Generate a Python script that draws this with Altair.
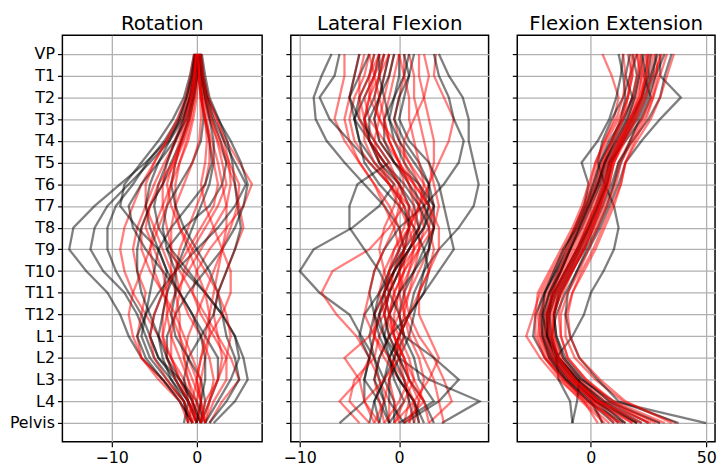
import altair as alt
import pandas as pd

levels = ["VP", "T1", "T2", "T3", "T4", "T5", "T6", "T7", "T8", "T9",
          "T10", "T11", "T12", "L1", "L2", "L3", "L4", "Pelvis"]

# ---------------- Rotation ----------------
rot_black = [
    [0.0, -0.3, -0.8, -1.8, -3.5, -6.0, -9.0, -12.0, -14.5, -15.0, -13.0, -10.5, -9.0, -8.0, -6.5, -4.0, -2.0, -0.5],
    [0.2, -0.2, -0.7, -1.6, -3.2, -5.5, -8.0, -10.5, -12.0, -12.5, -11.0, -8.5, -7.0, -6.0, -5.0, -3.0, -1.0, 0.5],
    [-0.2, -0.5, -1.2, -2.2, -3.8, -5.8, -7.5, -9.5, -10.5, -10.5, -9.5, -8.0, -6.5, -5.5, -4.5, -2.5, -1.0, 0.0],
    [0.3, 0.1, -0.4, -1.2, -2.6, -4.5, -6.5, -8.0, -7.5, -6.0, -4.0, -2.0, -0.5, 1.0, 2.5, 2.5, 1.5, 0.5],
    [0.5, 0.8, 1.3, 2.5, 4.0, 5.2, 6.0, 5.5, 4.5, 3.0, 1.0, -1.0, -2.5, -3.5, -3.5, -2.5, -1.0, 0.0],
    [0.4, 0.6, 1.0, 1.8, 2.8, 3.5, 3.0, 1.5, -1.5, -3.5, -1.5, 1.0, 3.0, 4.5, 5.5, 6.0, 4.5, 2.0],
    [0.0, 0.2, 0.5, 1.0, 1.5, 1.8, 1.0, -1.0, -3.0, -4.5, -5.0, -5.5, -6.0, -6.5, -5.5, -3.5, -1.5, -0.5],
    [-0.1, -0.3, -0.8, -1.5, -2.5, -3.5, -4.5, -5.0, -4.5, -3.0, -1.0, 1.0, 3.0, 4.5, 5.0, 4.0, 2.5, 1.0],
    [0.6, 1.0, 1.5, 2.6, 3.6, 4.2, 4.5, 4.8, 5.2, 4.5, 3.5, 2.5, 3.0, 3.5, 4.5, 5.0, 3.5, 1.5],
    [-0.3, -0.8, -1.5, -2.8, -4.5, -6.5, -8.5, -9.0, -7.0, -4.5, -3.5, -4.0, -5.0, -5.5, -4.5, -2.0, 0.0, 1.0],
    [0.2, 0.4, 0.6, 0.8, 0.5, -0.5, -2.0, -3.5, -4.0, -3.5, -2.5, -2.5, -3.0, -2.5, -1.0, 0.5, 1.0, 0.5],
    [0.0, -0.2, -0.5, -1.0, -1.8, -2.5, -3.0, -2.5, -1.5, 0.0, 1.5, 2.5, 2.0, 0.5, -1.0, -1.5, -1.0, -1.5],
    [0.4, 0.7, 1.2, 2.0, 3.2, 4.5, 5.8, 4.5, 2.5, 0.0, -2.5, -4.5, -6.0, -7.0, -6.0, -4.0, -2.0, -0.5],
    [0.1, 0.0, -0.3, -0.9, -1.8, -3.0, -4.0, -5.5, -6.5, -7.0, -7.0, -6.5, -5.5, -4.5, -3.5, -2.0, -0.5, 0.5],
    [0.3, 0.6, 1.0, 1.5, 2.0, 2.0, 1.5, 0.5, -0.5, -1.5, -2.5, -3.5, -4.0, -4.5, -4.0, -3.0, -1.5, -1.0],
    [-0.2, -0.6, -1.2, -2.0, -3.2, -4.5, -5.5, -6.0, -5.5, -4.5, -3.5, -2.0, -0.5, 0.5, 1.0, 1.0, 0.5, 0.0],
]
rot_red = [
    [0.3, 0.6, 1.2, 2.2, 3.5, 5.0, 6.5, 5.5, 3.5, 1.5, 0.0, -0.5, 0.5, 2.0, 3.5, 3.5, 2.0, 1.0],
    [-0.2, -0.5, -1.0, -2.0, -3.5, -5.0, -6.5, -7.5, -8.5, -9.0, -8.5, -7.5, -6.0, -4.5, -3.0, -1.5, -0.5, 0.0],
    [0.0, -0.2, -0.6, -1.3, -2.4, -3.8, -5.0, -6.0, -7.0, -7.5, -7.0, -6.0, -6.5, -7.0, -6.5, -4.0, -1.5, -1.0],
    [0.2, 0.4, 0.8, 1.5, 2.5, 3.5, 4.5, 5.0, 5.5, 4.5, 3.5, 2.5, 2.0, 2.5, 4.0, 5.0, 3.0, 1.5],
    [0.1, 0.1, 0.0, -0.4, -1.0, -2.0, -3.0, -4.0, -5.0, -5.5, -5.0, -4.0, -3.0, -2.0, -1.0, 0.0, 0.5, 0.5],
    [0.3, 0.5, 0.8, 1.2, 1.5, 1.5, 1.0, 0.0, -1.0, -2.0, -2.5, -2.0, -1.0, 0.5, 1.5, 2.0, 1.5, 1.0],
    [-0.1, -0.4, -0.9, -1.6, -2.6, -3.5, -4.0, -4.0, -3.5, -3.0, -3.0, -3.5, -4.0, -4.0, -3.0, -2.0, -0.5, 0.5],
    [0.0, 0.0, -0.2, -0.6, -1.2, -2.0, -2.5, -2.5, -2.0, -1.0, 0.0, 1.0, 1.5, 1.5, 1.0, 0.5, 0.0, -0.5],
    [0.5, 0.8, 1.4, 2.4, 3.2, 3.8, 4.0, 3.5, 2.0, 0.5, -1.0, -2.5, -3.5, -4.0, -3.5, -2.5, -1.0, 0.0],
    [-0.3, -0.7, -1.3, -2.3, -3.6, -5.0, -6.0, -6.0, -5.0, -4.0, -3.0, -2.5, -2.0, -2.0, -1.5, -0.5, 0.5, 1.0],
    [0.2, 0.3, 0.4, 0.5, 0.3, -0.5, -1.5, -2.5, -3.0, -3.0, -2.0, -0.5, 1.0, 2.5, 3.0, 2.5, 1.5, 0.5],
    [0.0, 0.2, 0.5, 1.0, 1.8, 2.5, 3.0, 3.5, 3.5, 3.0, 2.0, 1.0, 0.0, -1.0, -1.5, -1.0, -0.5, 0.0],
    [-0.1, -0.2, -0.4, -0.8, -1.5, -2.5, -4.0, -5.5, -6.5, -6.5, -5.5, -4.0, -2.5, -1.5, -0.5, 0.5, 0.5, 0.0],
    [0.4, 0.6, 1.0, 1.6, 2.4, 3.0, 3.5, 2.5, 1.0, -0.5, -1.5, -2.0, -2.5, -3.0, -3.0, -2.0, -1.0, -0.5],
    [-0.2, -0.3, -0.6, -1.0, -1.8, -2.5, -3.0, -3.5, -4.5, -5.5, -6.5, -7.5, -8.0, -7.5, -6.5, -4.5, -2.0, -1.0],
    [0.1, 0.3, 0.6, 1.0, 1.2, 1.0, 0.5, 1.0, 2.0, 3.0, 4.0, 4.0, 3.0, 1.5, 0.5, 0.0, 0.5, 1.0],
    [0.2, 0.3, 0.5, 0.9, 1.5, 2.0, 2.5, 2.0, 0.5, -1.0, -2.5, -4.0, -5.0, -5.5, -5.0, -3.5, -1.5, -0.5],
    [-0.1, -0.3, -0.7, -1.3, -2.0, -2.8, -3.5, -3.0, -2.0, -0.5, 1.0, 2.5, 3.5, 4.0, 3.5, 2.5, 1.0, 0.5],
    [0.4, 0.7, 1.1, 1.8, 2.8, 3.8, 5.0, 4.8, 4.0, 3.0, 2.5, 2.0, 1.5, 1.0, 0.5, 0.0, -0.5, -1.0],
    [0.0, -0.1, -0.3, -0.8, -1.6, -2.8, -4.5, -5.5, -6.0, -5.0, -4.0, -3.5, -3.5, -3.0, -2.0, -1.0, 0.0, 0.5],
]

# ---------------- Lateral Flexion ----------------
lat_black = [
    [-6.8, -7.8, -8.6, -8.4, -7.3, -5.5, -3.5, -1.5, 0.0, 0.5, 0.0, -1.0, -2.0, -2.5, -3.0, -3.5, -2.0, -1.0],
    [-6.0, -6.5, -8.0, -7.0, -5.0, -3.0, -1.0, 0.5, 1.0, 0.5, -0.5, -1.5, -2.5, -3.0, -2.5, -2.0, -1.5, -2.0],
    [4.0, 5.0, 6.4, 7.0, 7.0, 7.5, 8.0, 7.5, 6.0, 4.0, 2.5, 1.5, 1.0, 0.0, -1.0, -1.5, -2.5, -3.0],
    [-2.0, -2.5, -3.5, -4.5, -4.0, -2.5, -0.5, -2.0, -4.7, -8.6, -10.0, -8.0, -5.0, -3.8, -2.5, -1.5, -0.5, -0.5],
    [3.5, 4.0, 5.0, 5.5, 6.5, 6.0, 4.5, 2.5, 0.0, -1.5, -2.5, -3.0, -2.5, -1.5, 0.0, 3.0, 8.1, 4.3],
    [-1.0, -1.5, -2.0, -2.5, -2.0, -0.5, 2.0, 3.5, 3.5, 2.5, 1.5, 0.5, 0.0, 0.5, 3.5, 6.0, 4.0, 0.5],
    [-3.0, -4.0, -5.0, -4.5, -3.0, -1.5, 0.0, 1.5, 2.0, 1.0, -0.5, -2.0, -3.5, -4.0, -3.0, -3.5, -3.5, -6.0],
    [0.0, 0.0, -0.5, -1.0, -0.5, 0.5, 2.0, 3.0, 2.5, 1.0, 0.0, -1.0, -1.5, -1.0, 0.0, 1.0, 2.5, 3.5],
    [1.5, 1.0, 0.0, -0.5, 0.5, 2.0, 3.0, 3.0, 2.0, 0.5, -1.0, -1.5, -1.0, 0.5, 1.5, 2.0, 3.5, 0.0],
    [-4.0, -4.5, -5.0, -4.0, -2.5, -1.0, -4.2, -5.0, -5.0, -3.5, -2.0, -1.0, 0.0, 0.5, -0.5, -1.5, -2.5, -2.0],
    [-1.5, -2.0, -2.5, -3.5, -3.0, -1.5, 0.5, 2.0, 3.0, 3.0, 2.5, 2.0, 1.5, 1.0, 0.0, -1.0, -1.0, 0.5],
    [0.5, 1.0, 0.5, 0.0, 1.0, 3.0, 4.0, 4.5, 5.0, 5.5, 4.0, 2.5, 1.0, -1.0, -2.0, -2.5, -1.5, -1.0],
    [-2.5, -3.0, -4.0, -4.5, -4.0, -3.5, -2.0, 0.0, 1.5, 2.5, 3.0, 2.5, 1.0, 0.0, -1.0, 0.0, 1.5, 2.0],
    [-2.0, -2.0, -1.5, -1.0, 0.0, 1.5, 3.0, 3.5, 2.5, 1.0, -0.5, -1.5, -2.0, -1.5, -0.5, 0.5, 1.0, 1.5],
    [-0.5, -1.0, -2.0, -3.0, -3.0, -2.0, 0.0, 1.0, 1.0, 0.0, -1.0, -2.0, -2.5, -2.0, -1.0, -0.5, 0.5, -1.0],
    [1.0, 0.5, -0.5, -1.5, -1.5, -0.5, 1.0, 2.5, 3.5, 3.0, 1.5, 0.0, -1.0, -1.5, -1.0, 0.0, 1.5, 2.5],
]
lat_red = [
    [-5.5, -5.5, -6.0, -6.5, -5.5, -4.0, -2.5, -1.5, -0.5, 0.0, -0.5, -1.0, -2.0, -2.5, -3.0, -4.0, -6.0, -4.0],
    [3.7, 3.5, 4.5, 5.5, 5.0, 4.0, 3.0, 2.0, 1.0, 0.5, 0.0, 0.5, 1.0, 2.0, 3.5, 4.5, 5.3, 3.0],
    [-3.0, -3.5, -4.5, -5.0, -4.5, -3.0, -1.0, 1.0, 2.0, 2.0, 1.0, 0.0, -0.5, -0.5, 0.0, 0.5, 1.0, 0.5],
    [-1.0, -1.5, -2.0, -2.5, -2.0, -0.5, 1.5, 3.0, 3.5, 3.0, 2.0, 1.0, 0.5, 0.0, -0.5, -1.0, -0.5, 0.0],
    [0.5, 0.5, 0.0, -0.5, 0.0, 1.0, 2.5, 3.5, 3.0, 1.5, 0.0, -1.0, -1.5, -1.0, 0.0, 1.0, 2.0, 1.5],
    [-2.0, -2.5, -3.0, -3.5, -3.0, -2.0, -0.5, 0.5, -1.0, -3.0, -6.7, -7.8, -6.3, -4.3, -3.0, -2.0, -1.0, -1.0],
    [-4.0, -4.5, -5.0, -5.5, -5.0, -4.0, -2.5, -1.0, 0.0, 0.5, 0.5, 0.0, -1.0, -2.0, -2.5, -4.5, -5.0, -3.0],
    [2.0, 2.0, 2.5, 3.0, 3.5, 3.5, 3.0, 2.5, 2.0, 1.0, 0.0, 0.0, 0.5, 1.5, 2.5, 3.5, 4.0, 4.5],
    [-1.5, -2.5, -3.5, -3.0, -1.5, 0.0, 1.0, 2.0, 2.5, 2.0, 1.5, 1.0, 0.0, -1.0, -2.0, -2.5, -2.0, -1.5],
    [0.0, -0.5, -1.0, -1.5, -1.0, 0.0, 1.5, 2.0, 1.5, 0.5, -0.5, -1.5, -2.5, -2.5, -1.5, 0.0, 1.5, 2.0],
    [1.0, 1.5, 1.5, 2.0, 2.5, 3.0, 3.5, 4.0, 3.5, 2.0, 0.5, -0.5, -1.0, -0.5, 0.5, 1.5, 2.5, 0.5],
    [-3.5, -4.0, -4.0, -3.5, -2.5, -1.0, 0.0, -0.5, -1.5, -2.0, -1.5, -1.0, -1.5, -3.0, -5.5, -4.0, -3.5, -2.0],
    [-2.5, -3.0, -3.0, -2.0, -0.5, 1.0, 2.0, 2.5, 3.0, 3.5, 3.0, 2.0, 1.0, 0.0, -0.5, -1.0, -1.5, -2.5],
    [-0.5, -1.0, -1.5, -2.0, -2.5, -2.0, -1.0, 0.0, 1.0, 1.5, 1.0, 0.5, 0.5, 1.0, 2.0, 2.5, 2.0, 1.0],
    [2.5, 3.0, 2.5, 1.5, 0.5, 0.5, 1.5, 3.0, 4.0, 4.0, 3.0, 2.0, 2.0, 3.0, 4.0, 3.0, 1.5, -0.5],
    [-1.5, -2.0, -2.5, -2.0, -1.0, 0.0, 0.5, 0.0, -0.5, -1.5, -2.5, -3.0, -3.5, -2.5, -1.0, 0.5, 1.5, 1.0],
    [-3.0, -2.5, -2.0, -1.5, -1.0, 0.0, 1.0, 1.5, 1.0, 0.0, -1.0, -1.5, -1.0, 0.0, 1.0, 1.5, 0.5, -0.5],
    [-1.0, -2.0, -3.0, -3.5, -3.5, -2.5, -1.0, 0.5, 1.5, 1.5, 0.5, -0.5, -1.0, -0.5, 0.5, 1.0, 0.0, -1.5],
    [0.0, 0.5, 1.0, 1.0, 1.5, 2.0, 2.5, 2.0, 1.0, -0.5, -1.5, -2.0, -1.5, -0.5, 0.5, 1.0, 2.5, 3.0],
    [-2.0, -3.0, -4.0, -4.0, -3.0, -1.5, 0.0, 1.0, 0.5, -0.5, -1.0, -0.5, 0.0, 0.5, 0.0, -1.5, -3.5, -2.5],
]

# ---------------- Flexion Extension ----------------
fe_black = [
    [25, 23, 26, 22, 15, 8, 5, 2, -2, -6, -11, -16, -19, -19, -16, -8, 2, 12],
    [30, 30, 39, 30, 22, 15, 12, 8, 4, -1, -6, -11, -15, -17, -14, -6, 6, 25],
    [14, 13, 11, 8, 3, -4, -1, -3, -7, -11, -15, -20, -22, -21, -17, -9, 2, 20],
    [20, 17, 14, 9, 5, 3, 6, 10, 12, 10, 5.5, 0, -3, -8, -15, -14, -9, -8],
    [35, 32, 30, 25, 18, 12, 9, 5, 1, -3, -8, -13, -16, -15, -12, -4, 10, 50],
    [18, 20, 18, 14, 8, 4, 2, -2, -6, -10, -15, -20, -24, -25, -20, -11, -1, 10],
    [28, 27, 24, 20, 14, 9, 7, 4, 0, -4, -9, -14, -16, -15, -11, -3, 8, 30],
    [22, 24, 22, 17, 12, 7, 4, 0, -4, -9, -14, -18, -20, -20, -17, -10, 0, 5],
    [32, 28, 25, 21, 17, 13, 10, 7, 3, -2, -6, -10, -11, -9, -5, 3, 12, 38],
    [17, 15, 18, 15, 10, 6, 3, -1, -5, -9, -13, -17, -18, -17, -15, -7, 3, 15],
    [26, 25, 22, 18, 13, 8, 6, 3, -1, -5, -10, -15, -18, -18, -14, -6, 5, 22],
    [12, 14, 15, 13, 9, 4, 1, -2, -6, -12, -16, -20, -21, -19, -14, -5, -6, -8],
    [23, 21, 19, 16, 11, 6, 3, -1, -5, -9, -13, -18, -21, -21, -18, -11, -1, 14],
    [29, 26, 23, 19, 14, 9, 7, 3, -1, -6, -11, -16, -19, -19, -15, -7, 4, 20],
]
fe_red = [
    [5, 9, 12, 10, 6, 2, 0, -3, -7, -12, -17, -22, -25, -28, -22, -14, -3, 8],
    [20, 21, 19, 16, 11, 6, 4, 1, -3, -7, -12, -17, -19, -19, -16, -8, 2, 15],
    [30, 28, 26, 22, 17, 12, 10, 6, 2, -3, -8, -13, -16, -16, -13, -5, 6, 30],
    [24, 25, 22, 18, 13, 8, 6, 3, -1, -5, -9, -14, -16, -16, -12, -4, 8, 25],
    [16, 18, 16, 12, 7, 3, 1, -3, -7, -11, -16, -21, -23, -22, -18, -10, 1, 18],
    [36, 33, 30, 26, 20, 15, 13, 9, 5, 1, -4, -8, -11, -11, -7, 2, 14, 37],
    [27, 26, 24, 20, 15, 10, 7, 4, 0, -5, -10, -15, -18, -19, -16, -9, 1, 5],
    [22, 20, 18, 14, 9, 5, 3, 0, -4, -8, -13, -18, -21, -22, -19, -12, -2, 12],
    [33, 30, 27, 24, 19, 15, 13, 10, 6, 2, -3, -8, -10, -9, -5, 4, 15, 35],
    [18, 17, 16, 14, 10, 6, 3, -1, -5, -9, -13, -17, -19, -18, -14, -6, 4, 20],
    [26, 24, 21, 17, 12, 7, 5, 2, -2, -6, -11, -16, -20, -21, -18, -11, -3, 3],
    [28, 29, 27, 23, 18, 13, 11, 7, 3, -1, -5, -10, -13, -13, -10, -2, 9, 28],
    [14, 15, 14, 11, 6, 2, -1, -4, -8, -13, -18, -23, -24, -24, -20, -13, -4, 6],
    [24, 22, 20, 17, 13, 9, 7, 4, 1, -3, -8, -12, -14, -13, -10, -2, 10, 32],
    [31, 27, 23, 19, 14, 10, 8, 4, 0, -4, -9, -14, -17, -17, -14, -7, 4, 22],
    [20, 22, 21, 17, 12, 8, 6, 2, -2, -6, -11, -16, -19, -20, -17, -9, 1, 10],
    [21, 23, 22, 18, 13, 9, 6, 3, -1, -5, -10, -15, -18, -18, -15, -8, 3, 18],
    [25, 24, 22, 19, 14, 10, 8, 5, 1, -3, -8, -13, -16, -17, -14, -7, 3, 26],
    [19, 18, 16, 13, 9, 5, 2, -2, -6, -10, -14, -19, -22, -23, -20, -12, -1, 13],
]

titles = ["Rotation", "Lateral Flexion", "Flexion Extension"]
x_domains = [[-15.8, 7.7], [-10.9, 9.0], [-31.9, 53.8]]
x_ticks = [[-10, 0], [-10, 0], [0, 50]]
widths = [202, 200, 200]
plot_height = 411


def build_df(black, red):
    rows = []
    k = 0
    n = max(len(black), len(red))
    for i in range(n):
        for grp, src in (("black", black), ("red", red)):
            if i < len(src):
                for j, v in enumerate(src[i]):
                    rows.append({"line": f"{k:03d}", "group": grp, "idx": j, "value": v})
                k += 1
    return pd.DataFrame(rows)


label_expr = "[" + ",".join(f"'{l}'" for l in levels) + "][datum.value]"

panels = []
datasets = [(rot_black, rot_red), (lat_black, lat_red), (fe_black, fe_red)]
for p, (blk, red) in enumerate(datasets):
    df = build_df(blk, red)
    yaxis = alt.Axis(values=list(range(len(levels))), title=None, grid=True,
                     labels=(p == 0), labelExpr=label_expr)
    ch = alt.Chart(df, title=titles[p]).mark_line(strokeWidth=2.3, opacity=0.5).encode(
        x=alt.X("value:Q", scale=alt.Scale(domain=x_domains[p], nice=False, zero=False),
                axis=alt.Axis(values=x_ticks[p], title=None, grid=True,
                              labelExpr="replace(datum.label, '-', '−')")),
        y=alt.Y("idx:Q", scale=alt.Scale(domain=[-0.86, len(levels) - 1 + 0.86],
                                         reverse=True, nice=False, zero=False),
                axis=yaxis),
        color=alt.Color("group:N", scale=alt.Scale(domain=["black", "red"],
                                                   range=["#000000", "#ff0000"]),
                        legend=None),
        detail="line:N",
        order="idx:Q",
    ).properties(width=widths[p], height=plot_height)
    panels.append(ch)

chart = alt.hconcat(*panels, spacing=29, bounds="flush").properties(
    padding={"top": 3, "left": 0, "right": 0, "bottom": 0}
).configure_view(
    stroke="black", strokeWidth=1.5
).configure_axis(
    domain=False, gridColor="#b0b0b0", gridWidth=1.3, tickColor="black",
    tickSize=5, tickWidth=1.2, labelColor="black", labelFont="DejaVu Sans",
    labelFontSize=16, labelPadding=3
).configure_title(
    font="DejaVu Sans", fontSize=20, fontWeight="normal", color="black", offset=1
)

chart.save("out.html", embed_options={"renderer": "svg", "actions": False})
